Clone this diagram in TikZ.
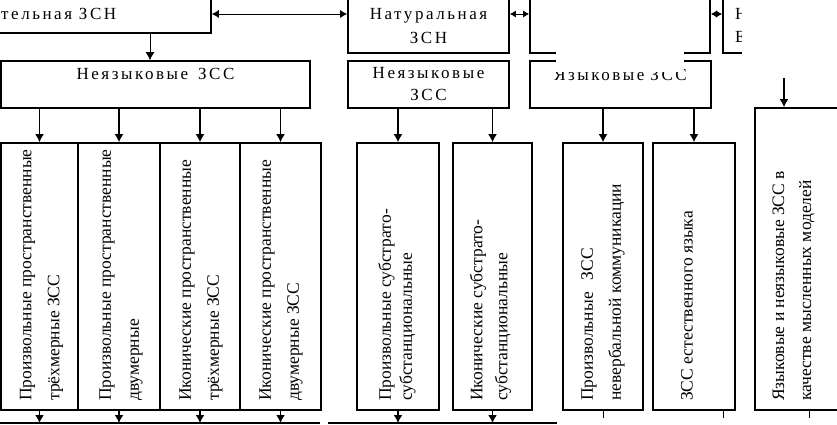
\documentclass[tikz,border=0pt]{standalone}
\usepackage{fontspec}
\setmainfont{Liberation Serif}
\newfontfamily\spfont[LetterSpace=15]{Liberation Serif}
\usetikzlibrary{arrows.meta,calc}
\begin{document}
\begin{tikzpicture}[x=1pt,y=-1pt,
  box/.style={draw, line width=1.6pt, rectangle, inner sep=0pt},
  htext/.style={font=\fontsize{17}{22}\selectfont\spfont, align=center, inner sep=0pt},
  vtext/.style={font=\fontsize{17.5}{28}\selectfont, rotate=90, anchor=west, align=left, inner sep=0pt},
  arr/.style={line width=1.8pt, -{Latex[length=8pt,width=9pt]}},
  arrthin/.style={line width=1pt, -{Latex[length=8pt,width=9pt]}},
  dbl/.style={line width=1pt, {Latex[length=7pt,width=8pt]}-{Latex[length=7pt,width=8pt]}},
  dblsmall/.style={line width=1pt, {Latex[length=6pt,width=7pt]}-{Latex[length=6pt,width=7pt]}},
  tick/.style={line width=1pt},
]
\clip (0,0) rectangle (837,424);
\fill[white] (0,0) rectangle (837,424);

% row 1
\node[box, minimum width=271, minimum height=38] (r1a) at (75.5,14) {};
\node[box, minimum width=161, minimum height=78] (r1b) at (428.5,14) {};
\node[box, minimum width=180, minimum height=78] (r1c) at (620,14) {};
\node[box, minimum width=97, minimum height=78] (r1d) at (771.5,14) {};
\node[htext, anchor=west] (t1a) at (1,14) {тельная ЗСН};
\node[htext, font=\fontsize{17}{24}\selectfont\spfont] (t1b) at (428.5,26) {Натуральная\\ЗСН};
\node[htext, anchor=west] (t1d) at (735,14) {Н};
\node[htext, anchor=west] (t1e) at (735,37) {Е};

\draw[dbl] (r1a.east) -- (r1b.west);
\draw[dblsmall] (r1b.east) -- (r1c.west);
\draw[dblsmall] (r1c.east) -- (r1d.west);

% row 2
\node[box, minimum width=309, minimum height=47] (r2a) at (155.5,84.5) {};
\node[box, minimum width=161, minimum height=47] (r2b) at (428.5,84.5) {};
\node[box, minimum width=181, minimum height=47] (r2c) at (620.5,84.5) {};
\node[htext] (t2a) at (155.5,74) {Неязыковые\hspace{10pt}ЗСС};
\node[htext] (t2b) at (428.5,84) {Неязыковые\\ЗСС};
\node[htext] (t2c) at (620.5,75) {Языковые\hspace{6pt}ЗСС};

\coordinate (c150) at (150,0);
\draw[arrthin] (r1a.south -| c150) -- (r2a.north -| c150);

% row 3
\node[box, minimum width=77, minimum height=267] (A) at (39.5,276.5) {};
\node[box, minimum width=82, minimum height=267] (B) at (119,276.5) {};
\node[box, minimum width=80, minimum height=267] (C) at (200,276.5) {};
\node[box, minimum width=81, minimum height=267] (D) at (280.5,276.5) {};
\node[box, minimum width=82, minimum height=267] (E) at (398,276.5) {};
\node[box, minimum width=79, minimum height=267] (F) at (492.5,276.5) {};
\node[box, minimum width=80, minimum height=267] (G) at (603,276.5) {};
\node[box, minimum width=82, minimum height=267] (H) at (694,276.5) {};
\node[box, minimum width=90, minimum height=302] (I) at (800,259) {};

\node[vtext] (tA) at (41.5,401) {Произвольные пространственные\\трёхмерные ЗСС};
\node[vtext] (tB) at (121,401) {Произвольные пространственные\\двумерные};
\node[vtext] (tC) at (201,401) {Иконические пространственные\\трёхмерные ЗСС};
\node[vtext] (tD) at (281,401) {Иконические пространственные\\двумерные ЗСС};
\node[vtext, font=\fontsize{17.5}{21}\selectfont] (tE) at (397,401) {Произвольные субстрато-\\субстанциональные};
\node[vtext, font=\fontsize{17.5}{25}\selectfont] (tF) at (490.5,401) {Иконические субстрато-\\субстанциональные};
\node[vtext] (tG) at (603,401) {Произвольные\hspace{12pt}ЗСС\\невербальной коммуникации};
\node[vtext] (tH) at (687,401) {ЗСС естественного языка};
\node[vtext, font=\fontsize{17.5}{27}\selectfont] (tI) at (793.5,401) {Языковые и неязыковые ЗСС в\\качестве мысленных моделей};

% arrows row 2 -> row 3
\foreach \n in {A,B,C,D} \draw[arr] (r2a.south -| \n.north) -- (\n.north);
\foreach \n in {E,F} \draw[arr] (r2b.south -| \n.north) -- (\n.north);
\foreach \n in {G,H} \draw[arr] (r2c.south -| \n.north) -- (\n.north);

\coordinate (itop) at (784,78);
\draw[arr, line width=2.5pt] (itop) -- (itop |- I.north);

% bottom
\coordinate (bline) at (0,423);
\foreach \n in {A,B,C,D,E,F} \draw[arr] (\n.south) -- (\n.south |- bline);
\draw[line width=1.2pt] (0,423) -- (320,423);
\draw[line width=1.2pt] (328,423) -- (557,423);
\draw[tick] (G.south) -- ++(0,7);
\draw[tick] ([xshift=29pt]H.south) -- ++(0,7);
\draw[tick] ([xshift=9pt]I.south) -- ++(0,7);

% masks as in the reference
\fill[white] (556,0) rectangle (684,72);
\fill[white] (742,0) rectangle (837,70);
\end{tikzpicture}
\end{document}
